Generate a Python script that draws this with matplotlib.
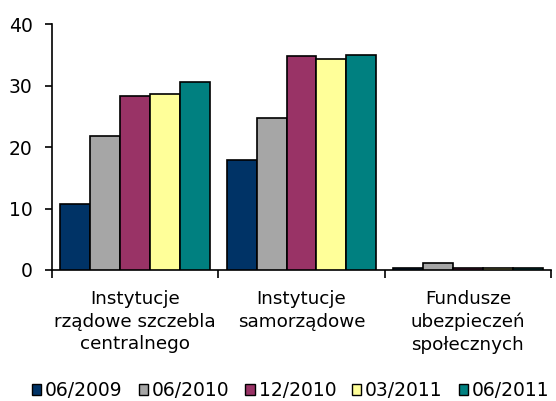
import matplotlib
matplotlib.use("Agg")
import matplotlib.pyplot as plt
import numpy as np
from matplotlib.patches import Patch

categories = ["Instytucje\nrządowe szczebla\ncentralnego", "Instytucje\nsamorządowe", "Fundusze\nubezpieczeń\nspołecznych"]
series_names = ["06/2009", "06/2010", "12/2010", "03/2011", "06/2011"]
v_0609 = [10.8, 17.9, 0.3]
v_0610 = [21.8, 24.8, 1.2]
v_1210 = [28.3, 34.8, 0.3]
v_0311 = [28.6, 34.4, 0.3]
v_0611 = [30.6, 35.1, 0.3]
values = [v_0609, v_0610, v_1210, v_0311, v_0611]
colors = ["#003366", "#A6A6A6", "#993366", "#FFFF99", "#008080"]

plt.rcParams['font.family'] = ['DejaVu Sans']
fig = plt.figure(figsize=(5.56, 4.01), dpi=100)
ax = fig.add_axes([0.0935, 0.327, 0.8975, 0.612])

x = np.arange(len(categories))
w = 0.18
for i, (vals, c) in enumerate(zip(values, colors)):
    ax.bar(x + (i - 2) * w, vals, width=w, color=c, edgecolor="black", linewidth=1.2, zorder=3)

ax.set_xlim(-0.5, 2.5)
ax.set_ylim(0, 40)
ax.set_yticks([0, 10, 20, 30, 40])
ax.tick_params(axis='y', labelsize=13.5, length=5, width=1.2, direction='out', pad=9)
ax.set_xticks([-0.5, 0.5, 1.5, 2.5])
ax.set_xticklabels([])
ax.tick_params(axis='x', length=6, width=1.2, direction='out')
for s in ['top', 'right']:
    ax.spines[s].set_visible(False)
for s in ['left', 'bottom']:
    ax.spines[s].set_linewidth(1.2)

for xi, lab in zip(x, categories):
    ax.text(xi, -3.3, lab, ha='center', va='top', fontsize=13.2, linespacing=1.33,
            transform=ax.transData)

handles = [Patch(facecolor=c, edgecolor='black', linewidth=1.0) for c in colors]
fig.legend(handles, series_names, loc='center', bbox_to_anchor=(0.523, 0.026), ncol=5,
           frameon=False, fontsize=13.5, handlelength=0.5, handleheight=0.5,
           handletextpad=0.2, columnspacing=0.85, borderaxespad=0.0, borderpad=0.0)

fig.savefig("out.png", dpi=100)
